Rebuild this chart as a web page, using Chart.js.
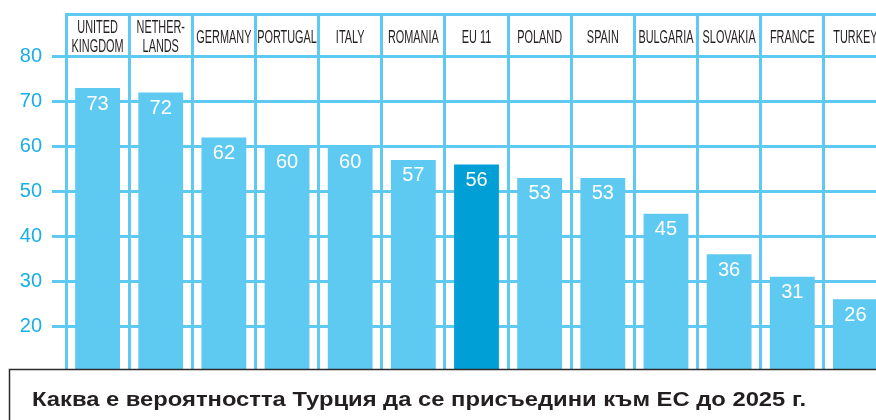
<!DOCTYPE html>
<html>
<head>
<meta charset="utf-8">
<script src="https://cdn.jsdelivr.net/npm/chart.js@4/dist/chart.umd.min.js"></script>
<style>
  html, body { margin: 0; padding: 0; overflow: hidden; background: #ffffff; }
  #wrap { width: 876px; height: 420px; overflow: hidden; }
  canvas { display: block; }
</style>
</head>
<body>
<div id="wrap"><canvas id="c" width="890" height="420" style="width:890px;height:420px"></canvas></div>
<script>
// ---- data ----
const CATEGORIES = [
  ['UNITED', 'KINGDOM'], ['NETHER-', 'LANDS'], 'GERMANY', 'PORTUGAL', 'ITALY', 'ROMANIA',
  'EU 11', 'POLAND', 'SPAIN', 'BULGARIA', 'SLOVAKIA', 'FRANCE', 'TURKEY'
];
const VALUES = [73, 72, 62, 60, 60, 57, 56, 53, 53, 45, 36, 31, 26];
const HIGHLIGHT_CATEGORY = 'EU 11';
const Y_TICK_LABELS = [20, 30, 40, 50, 60, 70, 80];
const TITLE = 'Каква е вероятността Турция да се присъедини към ЕС до 2025 г.';

// ---- styles ----
const GRID = '#5fcaf1';
const BAR = '#5fcaf1';
const BAR_HI = '#009fd6';
const TICK_TEXT = '#19aee9';
const DARK = '#231f20';
const FONT = '"Liberation Sans", Arial, sans-serif';

const barColors = CATEGORIES.map(c => (c === HIGHLIGHT_CATEGORY ? BAR_HI : BAR));

const valueLabels = {
  id: 'valueLabels',
  afterDatasetsDraw(chart) {
    const ctx = chart.ctx;
    const meta = chart.getDatasetMeta(0);
    ctx.save();
    ctx.fillStyle = '#ffffff';
    ctx.font = '20px ' + FONT;
    ctx.textAlign = 'center';
    ctx.textBaseline = 'middle';
    meta.data.forEach((bar, i) => {
      ctx.fillText(String(chart.data.datasets[0].data[i]), bar.x, bar.y + 16);
    });
    ctx.restore();
  }
};

const categoryLabels = {
  id: 'categoryLabels',
  afterDraw(chart) {
    const ctx = chart.ctx;
    const xs = chart.scales.x;
    const top = chart.chartArea.top;
    ctx.save();
    ctx.fillStyle = DARK;
    ctx.font = '18px ' + FONT;
    ctx.textAlign = 'center';
    ctx.textBaseline = 'middle';
    chart.data.labels.forEach((lab, i) => {
      const x = xs.getPixelForValue(i);
      const lines = Array.isArray(lab) ? lab : [lab];
      const ys = lines.length === 2 ? [top + 14, top + 33] : [top + 24];
      lines.forEach((t, k) => {
        ctx.save();
        ctx.translate(x, ys[k]);
        ctx.scale(0.605, 1);
        ctx.fillText(t, 0, 0);
        ctx.restore();
      });
    });
    ctx.restore();
  }
};

const captionBox = {
  id: 'captionBox',
  afterDraw(chart) {
    const ctx = chart.ctx;
    ctx.save();
    ctx.fillStyle = '#ffffff';
    ctx.fillRect(9.5, 369.5, 900, 80);
    ctx.strokeStyle = '#2b2b2b';
    ctx.lineWidth = 1.5;
    ctx.strokeRect(9.5, 369.5, 900, 80);
    ctx.fillStyle = DARK;
    ctx.font = 'bold 20px ' + FONT;
    ctx.textAlign = 'left';
    ctx.textBaseline = 'alphabetic';
    const w = ctx.measureText(TITLE).width;
    const sx = 774 / w;
    ctx.translate(32, 406);
    ctx.scale(sx, 1);
    ctx.fillText(TITLE, 0, 0);
    ctx.restore();
  }
};

new Chart(document.getElementById('c'), {
  type: 'bar',
  data: {
    labels: CATEGORIES,
    datasets: [{
      data: VALUES,
      backgroundColor: barColors,
      borderWidth: 0,
      barPercentage: 0.71,
      categoryPercentage: 1.0
    }]
  },
  options: {
    responsive: false,
    animation: false,
    devicePixelRatio: 1,
    layout: { padding: { left: 18, right: 3, top: 14, bottom: 49 } },
    plugins: { legend: { display: false }, tooltip: { enabled: false }, title: { display: false } },
    scales: {
      x: {
        position: 'top',
        offset: true,
        ticks: { display: false },
        grid: { offset: true, color: GRID, lineWidth: 3, drawTicks: false },
        border: { display: true, color: GRID, width: 3 }
      },
      y: {
        min: 10,
        max: 89.5,
        afterFit(scale) {
          scale.width = 48;
          scale.paddingTop = 0;
          scale.paddingBottom = 0;
        },
        ticks: {
          stepSize: 10,
          includeBounds: false,
          color: TICK_TEXT,
          padding: 10,
          font: { size: 20, family: FONT },
          callback: v => (Y_TICK_LABELS.includes(v) ? String(v) : '')
        },
        grid: {
          lineWidth: 3,
          tickLength: 14,
          color: c => (c.tick && Y_TICK_LABELS.includes(c.tick.value) ? GRID : 'rgba(0,0,0,0)'),
          tickColor: c => (c.tick && Y_TICK_LABELS.includes(c.tick.value) ? GRID : 'rgba(0,0,0,0)')
        },
        border: { display: true, color: GRID, width: 3 }
      }
    }
  },
  plugins: [valueLabels, categoryLabels, captionBox]
});
</script>
</body>
</html>
